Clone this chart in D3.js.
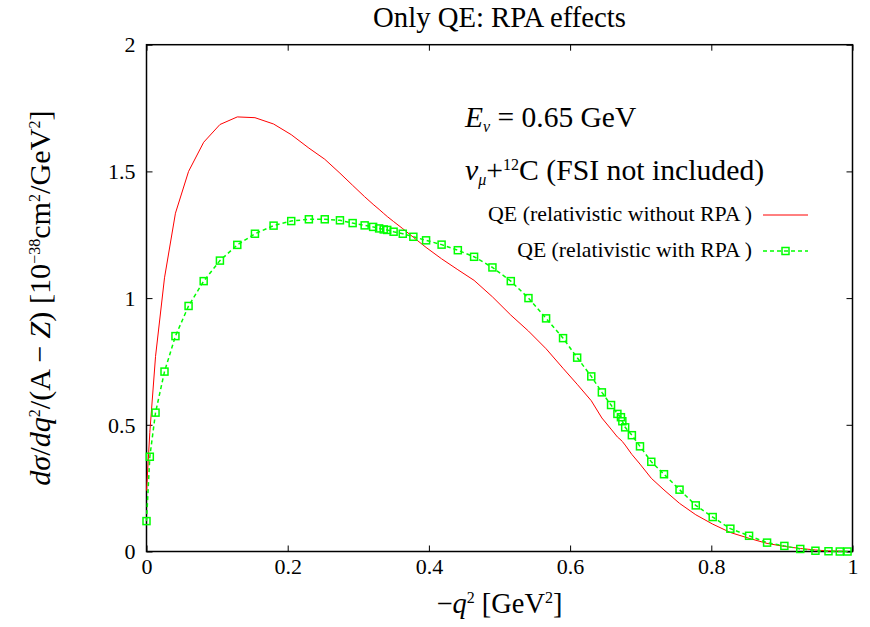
<!DOCTYPE html>
<html>
<head>
<meta charset="utf-8">
<script src="https://cdn.jsdelivr.net/npm/d3@7"></script>
<style>
  html, body { margin: 0; padding: 0; background: #fff; }
  svg { display: block; }
  text { font-family: "Liberation Serif", "DejaVu Serif", serif; fill: #000; }
</style>
</head>
<body>
<svg id="chart" width="870" height="627"></svg>
<script>
// ---- data ----
const q2 = [0, 0.0047, 0.0128, 0.0255, 0.041, 0.0596, 0.081, 0.104, 0.1286, 0.1536, 0.18, 0.205, 0.230,
  0.2525, 0.274, 0.292, 0.309, 0.321, 0.3295, 0.336, 0.341, 0.350, 0.363, 0.378, 0.396, 0.418, 0.441,
  0.464, 0.490, 0.516, 0.541, 0.566, 0.590, 0.610, 0.630, 0.645, 0.658, 0.667, 0.672, 0.674, 0.678,
  0.6875, 0.699, 0.715, 0.733, 0.755, 0.778, 0.802, 0.827, 0.8535, 0.879, 0.9035, 0.926, 0.9475,
  0.966, 0.982, 0.993];
const noRPA = [0.24, 0.47, 0.77, 1.08, 1.335, 1.50, 1.615, 1.685, 1.715, 1.712, 1.687, 1.645, 1.592,
  1.548, 1.493, 1.445, 1.400, 1.370, 1.350, 1.334, 1.322, 1.302, 1.274, 1.240, 1.200, 1.155, 1.112,
  1.070, 1.005, 0.933, 0.870, 0.800, 0.723, 0.660, 0.595, 0.527, 0.483, 0.452, 0.440, 0.434, 0.420,
  0.383, 0.345, 0.289, 0.243, 0.190, 0.145, 0.108, 0.075, 0.052, 0.032, 0.020, 0.012, 0.006,
  0.002, 0.001, 0.000];
const withRPA = [0.120, 0.374, 0.548, 0.710, 0.850, 0.969, 1.067, 1.148, 1.210, 1.254, 1.286, 1.304, 1.311,
  1.311, 1.307, 1.296, 1.287, 1.281, 1.275, 1.271, 1.269, 1.262, 1.254, 1.242, 1.228, 1.211, 1.189,
  1.163, 1.121, 1.067, 1.000, 0.920, 0.842, 0.765, 0.691, 0.628, 0.578, 0.543, 0.530, 0.514, 0.490,
  0.459, 0.415, 0.354, 0.305, 0.244, 0.182, 0.136, 0.090, 0.062, 0.035, 0.022, 0.010, 0.003,
  0.001, 0.000, 0.000];
const xTicks = [0, 0.2, 0.4, 0.6, 0.8, 1];
const yTicks = [0, 0.5, 1, 1.5, 2];
const seriesNames = ["QE (relativistic without RPA )", "QE (relativistic with RPA )"];
const titleText = "Only QE: RPA effects";

// ---- layout ----
const W = 870, H = 627;
const margin = {left: 146.5, right: 17.5, top: 44.7, bottom: 75.5};
const svg = d3.select("#chart");
const x = d3.scaleLinear().domain([0, 1]).range([margin.left, W - margin.right]);
const y = d3.scaleLinear().domain([0, 2]).range([H - margin.bottom, margin.top]);

function fitWidth(sel, target) {
  const w = sel.node().getBBox().width;
  const fs = parseFloat(sel.attr("font-size"));
  sel.attr("font-size", fs * target / w);
}

const TL = 6;
// bottom axis
const fmt = d => d3.format("")(d);
const gB = svg.append("g").attr("transform", `translate(0,${y(0)})`)
  .call(d3.axisBottom(x).tickValues(xTicks).tickSize(-TL).tickFormat(fmt).tickPadding(10));
gB.selectAll("text").attr("font-size", 22).attr("font-family", "Liberation Serif").attr("dy", "0.71em").attr("y", 7);
// top axis (mirror ticks)
svg.append("g").attr("transform", `translate(0,${y(2)})`)
  .call(d3.axisTop(x).tickValues(xTicks).tickSize(-TL).tickFormat(""));
// left axis
const gL = svg.append("g").attr("transform", `translate(${x(0)},0)`)
  .call(d3.axisLeft(y).tickValues(yTicks).tickSize(-TL).tickFormat(fmt));
gL.selectAll("text").attr("font-size", 22).attr("font-family", "Liberation Serif").attr("x", -11).attr("dy", "0.33em");
// right axis
svg.append("g").attr("transform", `translate(${x(1)},0)`)
  .call(d3.axisRight(y).tickValues(yTicks).tickSize(-TL).tickFormat(""));
svg.selectAll(".domain").remove();
svg.selectAll(".tick line").attr("stroke", "#000").attr("stroke-width", 1);

// frame
svg.append("rect").attr("x", x(0)).attr("y", y(2)).attr("width", x(1) - x(0)).attr("height", y(0) - y(2))
  .attr("fill", "none").attr("stroke", "#000").attr("stroke-width", 1.5);

// series
const redLine = d3.line().x((d, i) => x(q2[i])).y(d => y(d));
svg.append("path").datum(noRPA).attr("d", redLine).attr("fill", "none").attr("stroke", "#ff0000").attr("stroke-width", 1);

svg.append("path").datum(withRPA).attr("d", redLine).attr("fill", "none").attr("stroke", "#00ff00")
  .attr("stroke-width", 1.5).attr("stroke-dasharray", "4,3");
const S = 7;
svg.append("g").selectAll("rect").data(withRPA).join("rect")
  .attr("x", (d, i) => x(q2[i]) - S / 2).attr("y", d => y(d) - S / 2)
  .attr("width", S).attr("height", S).attr("fill", "none").attr("stroke", "#00ff00").attr("stroke-width", 1.5);

// title
const t = svg.append("text").attr("x", (x(0) + x(1)) / 2).attr("y", 27).attr("text-anchor", "middle")
  .attr("font-size", 24).text(titleText);
fitWidth(t, 253);

// annotations
const a1 = svg.append("text").attr("x", 465).attr("y", 127).attr("font-size", 24);
a1.append("tspan").attr("font-style", "italic").text("E");
a1.append("tspan").attr("font-style", "italic").attr("font-size", 16).attr("dy", 5).text("ν");
a1.append("tspan").attr("dy", -5).text(" = 0.65 GeV");
fitWidth(a1, 175);

const a2 = svg.append("text").attr("x", 465).attr("y", 180).attr("font-size", 24);
a2.append("tspan").attr("font-style", "italic").text("ν");
a2.append("tspan").attr("font-style", "italic").attr("font-size", 16).attr("dy", 5).text("μ");
a2.append("tspan").attr("dy", -5).text("+");
a2.append("tspan").attr("font-size", 16).attr("dy", -10).text("12");
a2.append("tspan").attr("dy", 10).text("C (FSI not included)");
fitWidth(a2, 305);

// legend
const legY = [215, 251];
const colors = ["#ff0000", "#00ff00"];
seriesNames.forEach((name, i) => {
  svg.append("text").attr("x", 752).attr("y", legY[i] + 6).attr("text-anchor", "end")
    .attr("font-size", 19).text(name);
  const l = svg.append("line").attr("x1", 763).attr("x2", 808).attr("y1", legY[i]).attr("y2", legY[i])
    .attr("stroke", colors[i]).attr("stroke-width", i ? 1.5 : 1);
  if (i) {
    l.attr("stroke-dasharray", "4,3");
    svg.append("rect").attr("x", 785.5 - S / 2).attr("y", legY[i] - S / 2).attr("width", S).attr("height", S)
      .attr("fill", "none").attr("stroke", colors[i]).attr("stroke-width", 1.5);
  }
});
// fit legend widths
const legTexts = svg.selectAll("text").filter(function() { return seriesNames.includes(this.textContent); });
legTexts.each(function() {
  const s = d3.select(this);
  fitWidth(s, this.textContent === seriesNames[0] ? 264 : 235);
});

// x label
const xl = svg.append("text").attr("x", (x(0) + x(1)) / 2).attr("y", 613).attr("text-anchor", "middle").attr("font-size", 24);
xl.append("tspan").text("−");
xl.append("tspan").attr("font-style", "italic").text("q");
xl.append("tspan").attr("font-size", 16).attr("dy", -10).text("2");
xl.append("tspan").attr("dy", 10).text(" [GeV");
xl.append("tspan").attr("font-size", 16).attr("dy", -10).text("2");
xl.append("tspan").attr("dy", 10).text("]");
fitWidth(xl, 129);

// y label
const yl = svg.append("text").attr("transform", `translate(50,${(y(0) + y(2)) / 2}) rotate(-90)`)
  .attr("text-anchor", "middle").attr("font-size", 24);
yl.append("tspan").attr("font-style", "italic").text("dσ");
yl.append("tspan").text("/");
yl.append("tspan").attr("font-style", "italic").text("dq");
yl.append("tspan").attr("font-size", 16).attr("dy", -10).text("2");
yl.append("tspan").attr("dy", 10).text("/(A − ");
yl.append("tspan").attr("font-style", "italic").text("Z");
yl.append("tspan").text(") [10");
yl.append("tspan").attr("font-size", 16).attr("dy", -10).text("−38");
yl.append("tspan").attr("dy", 10).text("cm");
yl.append("tspan").attr("font-size", 16).attr("dy", -10).text("2");
yl.append("tspan").attr("dy", 10).text("/GeV");
yl.append("tspan").attr("font-size", 16).attr("dy", -10).text("2");
yl.append("tspan").attr("dy", 10).text("]");
fitWidth(yl, 388);
</script>
</body>
</html>
